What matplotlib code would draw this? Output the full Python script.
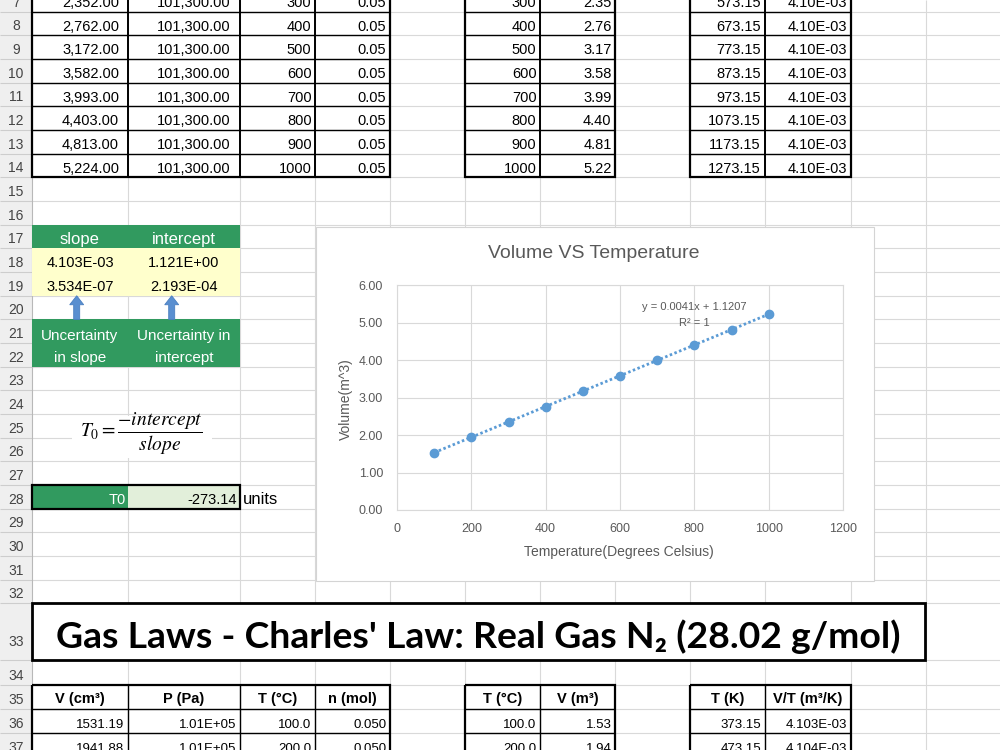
import numpy as np
import matplotlib
matplotlib.use("Agg")
import matplotlib.pyplot as plt
from matplotlib import font_manager
from matplotlib.patches import Rectangle, FancyArrow
from matplotlib.ticker import FormatStrFormatter

installed = {f.name for f in font_manager.fontManager.ttflist}
NARROW = "Liberation Sans Narrow" if "Liberation Sans Narrow" in installed else "Liberation Sans"
TITLE_FONT = "Lato" if "Lato" in installed else NARROW

plt.rcParams["font.family"] = ["Liberation Sans", "DejaVu Sans"]
plt.rcParams["mathtext.fontset"] = "stix"

# ---- chart data: Volume VS Temperature ----
temp_c = [100, 200, 300, 400, 500, 600, 700, 800, 900, 1000]
volume_m3 = [1.53, 1.94, 2.35, 2.76, 3.17, 3.58, 3.99, 4.40, 4.81, 5.22]
x_ticks = [0, 200, 400, 600, 800, 1000, 1200]
y_ticks = [0, 1, 2, 3, 4, 5, 6]
trend_label = "y = 0.0041x + 1.1207"
r2_label = "R² = 1"

# ---- sheet values, rows 7-14 ----
top_rows = list(range(7, 15))
top_v_cm3 = ["2,352.00", "2,762.00", "3,172.00", "3,582.00", "3,993.00", "4,403.00", "4,813.00", "5,224.00"]
top_p_pa = ["101,300.00"] * 8
top_t_c = ["300", "400", "500", "600", "700", "800", "900", "1000"]
top_n_mol = ["0.05"] * 8
top_v_m3 = ["2.35", "2.76", "3.17", "3.58", "3.99", "4.40", "4.81", "5.22"]
top_t_k = ["573.15", "673.15", "773.15", "873.15", "973.15", "1073.15", "1173.15", "1273.15"]
top_vt = ["4.10E-03"] * 8

# ---- regression block ----
fit_headers = ["slope", "intercept"]
fit_values = ["4.103E-03", "1.121E+00"]
fit_uncert = ["3.534E-07", "2.193E-04"]
fit_notes_1 = ["Uncertainty", "Uncertainty in"]
fit_notes_2 = ["in slope", "intercept"]
t0_label = "T0"
t0_value = "-273.14"
t0_unit = "units"

# ---- lower section ----
sheet_title = "Gas Laws - Charles' Law: Real Gas N\u2082 (28.02 g/mol)"
bottom_headers = ["V (cm³)", "P (Pa)", "T (°C)", "n (mol)", "T (°C)", "V (m³)", "T (K)", "V/T (m³/K)"]
bottom_rows = [36, 37]
bot_v_cm3 = ["1531.19", "1941.88"]
bot_p_pa = ["1.01E+05", "1.01E+05"]
bot_t_c = ["100.0", "200.0"]
bot_n_mol = ["0.050", "0.050"]
bot_v_m3 = ["1.53", "1.94"]
bot_t_k = ["373.15", "473.15"]
bot_vt = ["4.103E-03", "4.104E-03"]

# ---- sheet geometry (pixels) ----
W, H = 1000, 750
COL = {"A": (32, 128), "B": (128, 240), "C": (240, 315), "D": (315, 390),
       "E": (390, 465), "F": (465, 540), "G": (540, 615), "H": (615, 690),
       "I": (690, 765), "J": (765, 851), "K": (851, 926), "L": (926, 1001)}
ROW = {}
y = 11.7 - 23.67
for r in range(7, 33):
    ROW[r] = (y, y + 23.67)
    y += 23.67
ROW[33] = (y, y + 57)
y += 57
for r in range(34, 39):
    ROW[r] = (y, y + 24.2)
    y += 24.2

GRID = "#d9d9d9"
GREEN = "#319a5f"
YELLOW = "#ffffcc"
LIGHT_GREEN = "#e2efda"
BLUE = "#5b9bd5"
CHART_TXT = "#595959"

fig = plt.figure(figsize=(10, 7.5), dpi=100)
bg = fig.add_axes([0, 0, 1, 1])
bg.set_xlim(0, W)
bg.set_ylim(H, 0)
bg.axis("off")

# row header + gridlines
bg.add_patch(Rectangle((0, 0), 32, H, fc="#efefef", ec="none", zorder=0))
for r, (t, b) in ROW.items():
    bg.hlines(t, 0, 32, color="#cdcdcd", lw=0.8, zorder=1)
    bg.hlines(t, 32, W, color=GRID, lw=0.8, zorder=1)
    ty = 646 if r == 33 else b - 5
    bg.text(16, ty, str(r), ha="center", va="baseline", fontsize=10, color="#444444", zorder=5)
bg.vlines(32, 0, H, color="#b8b8b8", lw=0.8, zorder=1)
for c, (x0, x1) in COL.items():
    bg.vlines(x1, 0, H, color=GRID, lw=0.8, zorder=1)


def fill(c0, c1, r0, r1, color):
    x0, x1 = COL[c0][0], COL[c1][1]
    y0, y1 = ROW[r0][0], ROW[r1][1]
    bg.add_patch(Rectangle((x0, y0), x1 - x0, y1 - y0, fc=color, ec="none", zorder=2))


def outline(c0, c1, r0, r1, lw=1.5):
    x0, x1 = COL[c0][0], COL[c1][1]
    y0, y1 = ROW[r0][0], ROW[r1][1]
    bg.add_patch(Rectangle((x0, y0), x1 - x0, y1 - y0, fill=False, ec="black", lw=lw, zorder=4))


def table_lines(cols, rows, v_lw, h_lw, outer_lw):
    x0, x1 = COL[cols[0]][0], COL[cols[-1]][1]
    y0, y1 = ROW[rows[0]][0], ROW[rows[-1]][1]
    for c in cols[1:]:
        bg.vlines(COL[c][0], y0, y1, color="black", lw=v_lw, zorder=4)
    for r in rows[1:]:
        bg.hlines(ROW[r][0], x0, x1, color="black", lw=h_lw, zorder=4)
    outline(cols[0], cols[-1], rows[0], rows[-1], lw=outer_lw)


def put(col, row, s, ha="right", pad=4, size=10.5, color="black", drop=4.6, **kw):
    x0, x1 = COL[col]
    b = ROW[row][1]
    x = {"right": x1 - pad, "left": x0 + pad, "center": (x0 + x1) / 2}[ha]
    bg.text(x, b - drop, s, ha=ha, va="baseline", fontsize=size, color=color, zorder=5, **kw)


# ---- top tables ----
for i, r in enumerate(top_rows):
    put("A", r, top_v_cm3[i], pad=9)
    put("B", r, top_p_pa[i], pad=9)
    put("C", r, top_t_c[i], pad=3.5)
    put("D", r, top_n_mol[i], pad=3.5)
    put("F", r, top_t_c[i], pad=3.5)
    put("G", r, top_v_m3[i], pad=3.5)
    put("I", r, top_t_k[i], pad=4)
    put("J", r, top_vt[i], pad=4)
table_lines(["A", "B", "C", "D"], top_rows, 1.4, 1.0, 1.6)
table_lines(["F", "G"], top_rows, 1.4, 1.0, 1.6)
table_lines(["I", "J"], top_rows, 1.4, 1.0, 1.6)

# ---- regression block ----
fill("A", "B", 17, 17, GREEN)
fill("A", "B", 18, 19, YELLOW)
fill("A", "B", 21, 22, GREEN)
for col, hd, v, u, n1, n2 in zip(["A", "B"], fit_headers, fit_values, fit_uncert, fit_notes_1, fit_notes_2):
    put(col, 17, hd, ha="center", size=12, color="white")
    put(col, 18, v, ha="center")
    put(col, 19, u, ha="center")
    put(col, 21, n1, ha="center", size=11, color="white", drop=3.5)
    put(col, 22, n2, ha="center", size=11, color="white", drop=5)
for ax_x in [76.7, 171.7]:
    bg.add_patch(FancyArrow(ax_x, ROW[21][0], 0, -(ROW[21][0] - ROW[20][0]), width=6,
                            head_width=14, head_length=9, length_includes_head=True,
                            fc="#5a8fd0", ec="#4a7fc0", lw=0.6, zorder=4))

# equation object
bg.add_patch(Rectangle((72, 416), 140, 42, fc="white", ec="none", zorder=2))
bg.text(141, 434, r"$T_0 = \dfrac{-intercept}{slope}$", ha="center", va="center",
        fontsize=14, color="black", zorder=5)

# T0 row
fill("A", "A", 28, 28, GREEN)
fill("B", "B", 28, 28, LIGHT_GREEN)
put("A", 28, t0_label, pad=2.5, color="white")
put("B", 28, t0_value, pad=3.5)
put("C", 28, t0_unit, ha="left", pad=3, size=12)
outline("A", "B", 28, 28, lw=1.6)

# ---- title row ----
bg.add_patch(Rectangle((32, ROW[33][0]), 893, ROW[33][1] - ROW[33][0], fc="white",
                       ec="black", lw=2.0, zorder=3))
title = bg.text(478, 648, sheet_title, ha="center", va="baseline", fontsize=24,
                fontweight="bold", family=[TITLE_FONT, "Liberation Sans", "DejaVu Sans"], zorder=5)
fig.canvas.draw()
tw = title.get_window_extent(fig.canvas.get_renderer()).width
title.set_fontsize(24 * 845 / tw)

# ---- bottom tables ----
bot_cols = ["A", "B", "C", "D", "F", "G", "I", "J"]
for c, hd in zip(bot_cols, bottom_headers):
    put(c, 35, hd, ha="center", size=10.5, fontweight="bold", drop=5.5)
bot_cols_vals = [bot_v_cm3, bot_p_pa, bot_t_c, bot_n_mol, bot_t_c, bot_v_m3, bot_t_k, bot_vt]
for c, vals in zip(bot_cols, bot_cols_vals):
    for r, s in zip(bottom_rows, vals):
        put(c, r, s, pad=3.5, size=9.5, drop=5.5)
table_lines(["A", "B", "C", "D"], [35] + bottom_rows + [38], 1.0, 1.0, 1.6)
table_lines(["F", "G"], [35] + bottom_rows + [38], 1.0, 1.0, 1.6)
table_lines(["I", "J"], [35] + bottom_rows + [38], 1.0, 1.0, 1.6)

# ---- embedded chart ----
bg.add_patch(Rectangle((316, 226.5), 558, 354, fc="white", ec="#d4d4d4", lw=0.8, zorder=3))
bg.text(594, 253, "Volume VS Temperature", ha="center", va="center", fontsize=14,
        color=CHART_TXT, zorder=5)
bg.text(619, 552, "Temperature(Degrees Celsius)", ha="center", va="center", fontsize=10,
        color=CHART_TXT, zorder=5)
bg.text(346, 399.5, "Volume(m^3)", ha="center", va="center", rotation=90, fontsize=10,
        color=CHART_TXT, zorder=5)

ch = fig.add_axes([397 / W, 1 - 510 / H, 446 / W, 225 / H])
ch.set_facecolor("white")
ch.set_xlim(x_ticks[0], x_ticks[-1])
ch.set_ylim(y_ticks[0], y_ticks[-1])
ch.set_xticks(x_ticks)
ch.set_yticks(y_ticks)
ch.yaxis.set_major_formatter(FormatStrFormatter("%.2f"))
ch.grid(True, color=GRID, lw=0.8)
ch.set_axisbelow(True)
ch.tick_params(length=0, labelsize=9, labelcolor=CHART_TXT)
ch.tick_params(axis="x", pad=9)
ch.tick_params(axis="y", pad=10)
for s in ch.spines.values():
    s.set_color(GRID)
    s.set_linewidth(0.8)

slope, intercept = np.polyfit(temp_c, volume_m3, 1)
xs = np.array([temp_c[0], temp_c[-1]])
ch.plot(xs, slope * xs + intercept, linestyle=(0, (0.9, 0.9)), lw=2.0, color=BLUE, zorder=3)
ch.plot(temp_c, volume_m3, "o", ms=6, color=BLUE, zorder=4)
ch.text(800, 5.42, trend_label, ha="center", va="center", fontsize=8, color=CHART_TXT)
ch.text(800, 4.99, r2_label, ha="center", va="center", fontsize=8, color=CHART_TXT)

fig.savefig("out.png", dpi=100)
